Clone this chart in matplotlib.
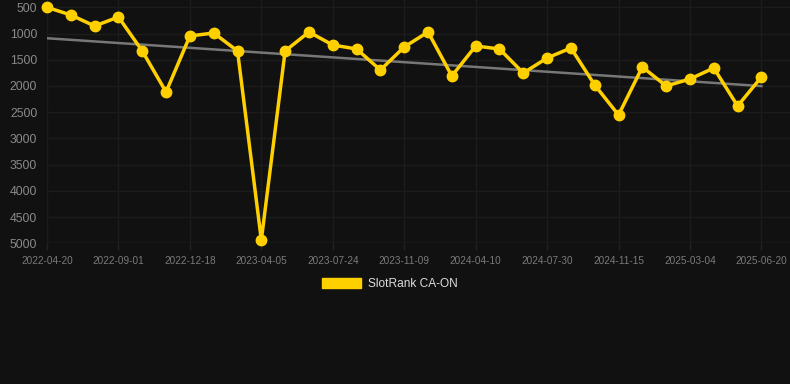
import matplotlib
matplotlib.use('Agg')
import matplotlib.pyplot as plt
from matplotlib.patches import Patch
import numpy as np

# SlotRank CA-ON rank per sample (lower is better, axis inverted)
ranks = [500, 647, 857, 685, 1333, 2115, 1047, 990, 1333, 4937,
         1333, 971, 1219, 1295, 1696, 1257, 971, 1810, 1238, 1295,
         1753, 1467, 1276, 1982, 2554, 1638, 2001, 1867, 1658, 2382,
         1829]
tick_labels = ['2022-04-20', '2022-09-01', '2022-12-18', '2023-04-05',
               '2023-07-24', '2023-11-09', '2024-04-10', '2024-07-30',
               '2024-11-15', '2025-03-04', '2025-06-20']
y_ticks = [500, 1000, 1500, 2000, 2500, 3000, 3500, 4000, 4500, 5000]

bg = '#111111'
gold = '#FFD000'

plt.rcParams['font.family'] = ['Liberation Sans', 'DejaVu Sans']

fig = plt.figure(figsize=(7.9, 3.84), dpi=100, facecolor=bg)
ax = fig.add_axes([47 / 790, 1 - 243.3 / 384, 1 - 47 / 790, 243.3 / 384])
ax.set_facecolor(bg)

x = np.arange(len(ranks))

# trend line (least squares)
k, b = np.polyfit(x, ranks, 1)
ax.plot(x, k * x + b, color='#777777', lw=1.8, zorder=2)

ax.plot(x, ranks, color=gold, lw=2.5, marker='o', markersize=7.5,
        zorder=3, clip_on=False)

ax.set_xlim(0, 31.2)
ax.set_ylim(5000, 361)
ax.set_yticks(y_ticks)
ax.set_xticks(x[::3])
ax.set_xticklabels(tick_labels)

ax.grid(True, color='#1c1c1c', lw=1)
ax.set_axisbelow(True)
for s in ax.spines.values():
    s.set_visible(False)
ax.axhline(5000, color='#2a2a2a', lw=1, zorder=1)

ax.tick_params(axis='y', length=0, pad=7, labelsize=8.8, labelcolor='#8a8a8a')
ax.tick_params(axis='x', length=5, width=1, color='#222222', pad=4,
               labelsize=7.2, labelcolor='#7a7a7a')

handle = Patch(facecolor=gold, edgecolor=gold)
leg = fig.legend([handle], ['SlotRank CA-ON'], loc='center',
                 bbox_to_anchor=(0.493, 0.26), frameon=False,
                 fontsize=8.6, handlelength=3.3, handleheight=0.93,
                 handletextpad=0.55)
for t in leg.get_texts():
    t.set_color('#dddddd')

fig.savefig('out.png', dpi=100, facecolor=bg)
